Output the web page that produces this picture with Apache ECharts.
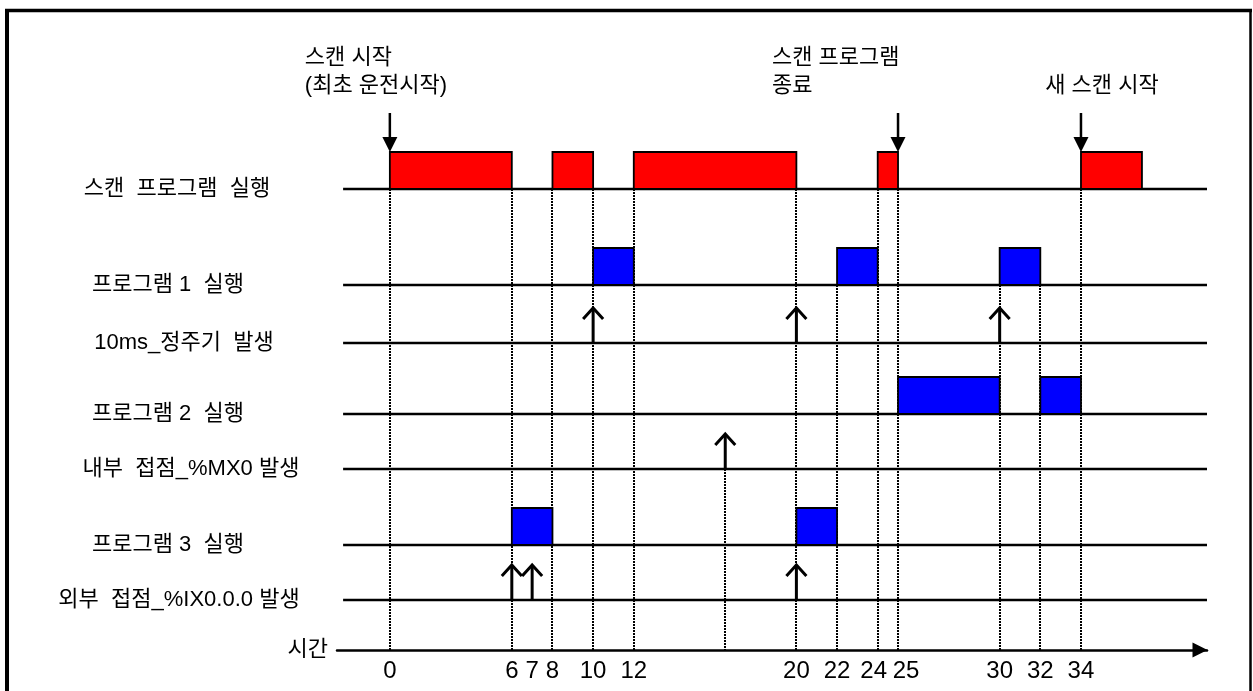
<!DOCTYPE html>
<html>
<head>
<meta charset="utf-8">
<title>스캔 프로그램 타이밍</title>
<script src="https://cdn.jsdelivr.net/npm/echarts@6/dist/echarts.min.js"></script>
<style>
  html, body { margin: 0; padding: 0; background: #fff; }
  #chart { width: 1253px; height: 691px; }
</style>
</head>
<body>
<div id="chart"></div>
<script>
  // 행 이름 (위에서 아래로)
  var rowNames = ['스캔  프로그램  실행', '프로그램 1  실행', '10ms_정주기  발생', '프로그램 2  실행',
    '내부  접점_%MX0 발생', '프로그램 3  실행', '외부  접점_%IX0.0.0 발생']
  var timeAxisName = '시간'

  // 실행 구간 [시작, 끝]
  var scanRuns = [[0, 6], [8, 10], [12, 20], [24, 25], [34, 37]]
  var prog1Runs = [[10, 12], [22, 24], [30, 32]]
  var prog2Runs = [[25, 30], [32, 34]]
  var prog3Runs = [[6, 8], [20, 22]]

  // 발생 시점
  var tick10ms = [10, 20, 30]
  var mx0Events = [16.5]
  var ix000Events = [6, 7, 20]

  // 스캔 표시
  var scanMarks = [0, 25, 34]
  var scanMarkTexts = ['스캔 시작\n(최초 운전시작)', '스캔 프로그램\n종료', '새 스캔 시작']

  // 시간축 눈금, 점선
  var timeTicks = [0, 6, 7, 8, 10, 12, 20, 22, 24, 25, 30, 32, 34]
  var guideTimes = [0, 6, 8, 10, 12, 16.5, 20, 22, 24, 25, 30, 32, 34]

  // ---- layout ----
  var rowY = [189, 285, 343, 414, 469, 545, 600]
  var axisY = 650
  var blockH = 37
  var lineFrom = -2.3
  var lineTo = 40.2
  var labelX = [177, 168, 184, 168, 191, 168, 179]
  var annBottom = 100
  var annLayout = [{dx: -85, align: 'left'}, {dx: -126, align: 'left'}, {dx: 21, align: 'center'}]
  var FONT = '"Liberation Sans", "Noto Sans CJK KR", sans-serif'

  var runRows = [[scanRuns, 0], [prog1Runs, 1], [prog2Runs, 3], [prog3Runs, 5]]
  var eventRows = [[tick10ms, 2], [mx0Events, 4], [ix000Events, 6]]

  // 점선이 시작하는 행 = 그 시점에 경계/발생이 있는 가장 위 행
  function guideRow (t){
    var best = rowY.length - 1
    runRows.forEach(function (e){
      e[0].forEach(function (r){ if(r[0] === t || r[1] === t) best = Math.min(best, e[1]) })
    })
    eventRows.forEach(function (e){
      e[0].forEach(function (v){ if(v === t) best = Math.min(best, e[1]) })
    })
    return best
  }

  function runItems (runs, row){
    return runs.map(function (r){ return [r[0], r[1], row] })
  }
  function eventItems (list, row){
    return list.map(function (t){ return [t, row] })
  }

  function renderBlock (color){
    return function (params, api){
      var row = api.value(2)
      var p0 = api.coord([api.value(0), rowY[row]])
      var p1 = api.coord([api.value(1), rowY[row] - blockH])
      return {
        type: 'rect',
        shape: {x: p0[0], y: p1[1], width: p1[0] - p0[0], height: p0[1] - p1[1]},
        style: {fill: color, stroke: '#000', lineWidth: 1.8},
      }
    }
  }

  function renderUpArrow (params, api){
    var p = api.coord([api.value(0), rowY[api.value(1)]])
    var top = p[1] - 36
    return {
      type: 'group',
      children: [
        {type: 'line', shape: {x1: p[0], y1: p[1], x2: p[0], y2: top + 1}, style: {stroke: '#000', lineWidth: 3}},
        {type: 'polyline', shape: {points: [[p[0] - 10, top + 12], [p[0], top + 1], [p[0] + 10, top + 12]]},
          style: {stroke: '#000', lineWidth: 3, fill: null}},
      ],
    }
  }

  var option = {
    animation: false,
    grid: {left: 337, right: 46, top: 0, bottom: 41, outerBoundsMode: 'none', containLabel: false},
    xAxis: {
      type: 'value',
      position: 'bottom',
      min: -2.6,
      max: 40.2,
      name: timeAxisName,
      nameLocation: 'start',
      nameGap: 9,
      nameTextStyle: {color: '#000', fontSize: 22, fontFamily: FONT, verticalAlign: 'middle'},
      splitLine: {show: false},
      axisTick: {show: false},
      axisLine: {
        show: true,
        onZero: false,
        lineStyle: {color: '#000', width: 2.5},
        symbol: ['none', 'triangle'],
        symbolSize: [15, 15],
        symbolOffset: [0, -7],
      },
      axisLabel: {
        customValues: timeTicks,
        margin: 9,
        color: '#000',
        fontSize: 24,
        fontFamily: FONT,
        formatter: function (v){
          if(v === 24) return '{l|24}'
          if(v === 25) return '{r|25}'
          return String(v)
        },
        rich: {
          l: {fontSize: 24, fontFamily: FONT, color: '#000', padding: [0, 8, 0, 0]},
          r: {fontSize: 24, fontFamily: FONT, color: '#000', padding: [0, 0, 0, 16]},
        },
      },
    },
    yAxis: {type: 'value', min: 0, max: axisY, inverse: true, show: false},
    graphic: [
      {type: 'line', shape: {x1: 7, y1: 9, x2: 7, y2: 691}, style: {stroke: '#000', lineWidth: 4}},
      {type: 'line', shape: {x1: 5, y1: 10.5, x2: 1252, y2: 10.5}, style: {stroke: '#000', lineWidth: 3.5}},
      {type: 'line', shape: {x1: 1250.5, y1: 9, x2: 1250.5, y2: 691}, style: {stroke: '#000', lineWidth: 2.5}},
    ],
    series: [
      {
        name: 'guides',
        type: 'custom',
        silent: true,
        z: 1,
        data: guideTimes.map(function (t){ return [t, guideRow(t)] }),
        renderItem: function (params, api){
          var t = api.value(0)
          var a = api.coord([t, rowY[api.value(1)]])
          var b = api.coord([t, axisY])
          var x = Math.round(a[0])
          return {
            type: 'line',
            shape: {x1: x, y1: a[1], x2: x, y2: b[1]},
            style: {stroke: '#000', lineWidth: 2, lineDash: [2, 1]},
          }
        },
      },
      {
        name: 'rows',
        type: 'custom',
        silent: true,
        z: 2,
        data: rowNames.map(function (n, i){ return [0, i] }),
        renderItem: function (params, api){
          var i = api.value(1)
          var a = api.coord([lineFrom, rowY[i]])
          var b = api.coord([lineTo, rowY[i]])
          return {
            type: 'group',
            children: [
              {type: 'line', shape: {x1: a[0], y1: a[1], x2: b[0], y2: b[1]}, style: {stroke: '#000', lineWidth: 2.5}},
              {type: 'text', x: labelX[i], y: a[1],
                style: {text: rowNames[i], fill: '#000', fontSize: 22, fontFamily: FONT, align: 'center', verticalAlign: 'middle'}},
            ],
          }
        },
      },
      {
        name: '스캔 프로그램',
        type: 'custom',
        silent: true,
        z: 3,
        encode: {x: [0, 1], y: 2},
        data: runItems(scanRuns, 0),
        renderItem: renderBlock('#ff0000'),
      },
      {
        name: '프로그램',
        type: 'custom',
        silent: true,
        z: 3,
        encode: {x: [0, 1], y: 2},
        data: runItems(prog1Runs, 1).concat(runItems(prog2Runs, 3), runItems(prog3Runs, 5)),
        renderItem: renderBlock('#0000ff'),
      },
      {
        name: '발생',
        type: 'custom',
        silent: true,
        z: 4,
        data: eventItems(tick10ms, 2).concat(eventItems(mx0Events, 4), eventItems(ix000Events, 6)),
        renderItem: renderUpArrow,
      },
      {
        name: '스캔 표시',
        type: 'custom',
        silent: true,
        z: 4,
        data: scanMarks.map(function (t, i){ return [t, i] }),
        renderItem: function (params, api){
          var i = api.value(1)
          var p = api.coord([api.value(0), rowY[0] - blockH])
          var ty = api.coord([api.value(0), annBottom])[1]
          var lay = annLayout[i]
          return {
            type: 'group',
            children: [
              {type: 'line', shape: {x1: p[0], y1: p[1] - 39, x2: p[0], y2: p[1] - 14}, style: {stroke: '#000', lineWidth: 2.5}},
              {type: 'polygon', shape: {points: [[p[0] - 7.5, p[1] - 15], [p[0] + 7.5, p[1] - 15], [p[0], p[1]]]}, style: {fill: '#000'}},
              {type: 'text', x: p[0] + lay.dx, y: ty,
                style: {text: scanMarkTexts[i], fill: '#000', fontSize: 22, fontFamily: FONT, lineHeight: 28,
                  align: lay.align, verticalAlign: 'bottom'}},
            ],
          }
        },
      },
    ],
  }

  var chart = echarts.init(document.getElementById('chart'))
  chart.setOption(option)
</script>
</body>
</html>
